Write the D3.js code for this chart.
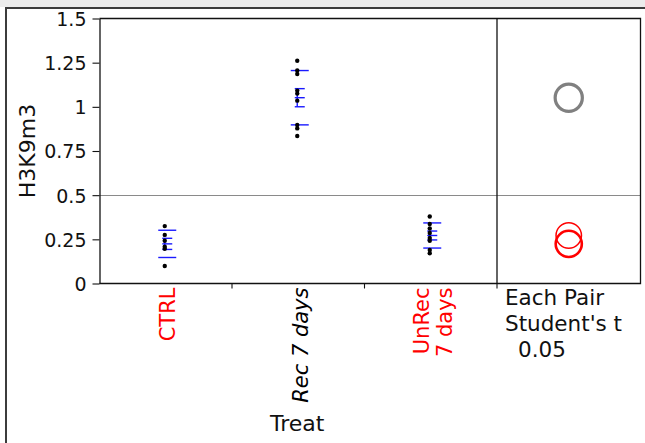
<!DOCTYPE html>
<html>
<head>
<meta charset="utf-8">
<script src="https://cdn.jsdelivr.net/npm/d3@7/dist/d3.min.js"></script>
<style>
  body { margin: 0; background: #fff; }
  svg { display: block; }
  text { font-family: "DejaVu Sans", "Liberation Sans", sans-serif; }
</style>
</head>
<body>
<svg id="chart" width="645" height="443"></svg>
<script>
// ---- data ----
const groups = ["CTRL", "Rec 7 days", "UnRec 7 days"];
const groupLabelLines = [["CTRL"], ["Rec 7 days"], ["UnRec", "7 days"]];
const ctrlValues = [0.325, 0.275, 0.242, 0.208, 0.197, 0.099];
const rec7Values = [1.261, 1.206, 1.186, 1.092, 1.075, 1.035, 0.897, 0.878, 0.835];
const unrec7Values = [0.379, 0.337, 0.311, 0.286, 0.258, 0.242, 0.190, 0.171];
const comparisonRadii = [0.074, 0.077, 0.072];   // comparison circle radii, in H3K9m3 units
const yTicks = [0, 0.25, 0.5, 0.75, 1, 1.25, 1.5];
const referenceLevel = 0.5;
const testLabelLines = ["Each Pair", "Student's t", "0.05"];
const yTitle = "H3K9m3";
const xTitle = "Treat";

const groupValues = [ctrlValues, rec7Values, unrec7Values];

// ---- styling / layout ----
const labelColor = { "CTRL": "#ff0000", "Rec 7 days": "#000000", "UnRec 7 days": "#ff0000" };
const labelItalic = { "Rec 7 days": true };
const circleStyle = {
  "CTRL": { stroke: "#ff0000", width: 2.6 },
  "Rec 7 days": { stroke: "#808080", width: 3.2 },
  "UnRec 7 days": { stroke: "#ff0000", width: 1.5 }
};
const plotLeft = 99.5, plotRight = 497, panelRight = 640.5, plotTop = 18.5, plotBottom = 283.5;

const svg = d3.select("#chart");

// window chrome: grey strip and outer frame
svg.append("rect").attr("x", 0).attr("y", 0).attr("width", 645).attr("height", 7).attr("fill", "#ececec");
svg.append("path").attr("d", "M6,443 V8 H645").attr("fill", "none").attr("stroke", "#3c3c3c").attr("stroke-width", 2);

const y = d3.scaleLinear().domain([0, 1.5]).range([plotBottom, plotTop]);
const x = d3.scaleBand().domain(groups).range([plotLeft, plotRight]).padding(0);

// summary statistics per group
const stats = groups.map((g, i) => {
  const v = groupValues[i];
  const mean = d3.mean(v), sd = d3.deviation(v);
  return { group: g, values: v, mean, sd, se: sd / Math.sqrt(v.length), radius: comparisonRadii[i] };
});

// grand-mean reference line across both panels
svg.append("line")
  .attr("x1", plotLeft).attr("x2", panelRight)
  .attr("y1", Math.round(y(referenceLevel)) + 0.5).attr("y2", Math.round(y(referenceLevel)) + 0.5)
  .attr("stroke", "#8a8a8a").attr("stroke-width", 1);

// y axis
const yAxis = svg.append("g")
  .attr("transform", `translate(${plotLeft},0)`)
  .call(d3.axisLeft(y).tickValues(yTicks).tickFormat(d => String(d)).tickSizeInner(7).tickSizeOuter(0).tickPadding(6));
yAxis.select(".domain").attr("stroke", "#111").attr("stroke-width", 1.3);
yAxis.selectAll(".tick line").attr("stroke", "#111").attr("stroke-width", 1.1);
yAxis.selectAll(".tick text").attr("font-size", 19).attr("fill", "#111").attr("dy", "0.36em")
  .style("font-family", "'DejaVu Sans', sans-serif");

// plot frames
svg.append("path")
  .attr("d", `M${plotLeft},${plotTop} H${panelRight} V${plotBottom} H${plotLeft}`)
  .attr("fill", "none").attr("stroke", "#111").attr("stroke-width", 1.3);
svg.append("line")
  .attr("x1", plotRight).attr("x2", plotRight).attr("y1", plotTop).attr("y2", plotBottom)
  .attr("stroke", "#111").attr("stroke-width", 1.3);

// x ticks at band boundaries
const boundaries = groups.slice(1).map(g => x(g)).concat([plotRight]);
svg.selectAll(".xtick").data(boundaries).join("line")
  .attr("class", "xtick")
  .attr("x1", d => d).attr("x2", d => d)
  .attr("y1", plotBottom).attr("y2", plotBottom + 5)
  .attr("stroke", "#111").attr("stroke-width", 1.1);

// mean / SE / SD markers
const statG = svg.append("g").attr("stroke", "#1a1aff").attr("stroke-width", 1.4);
stats.forEach(s => {
  const cx = x(s.group) + x.bandwidth() / 2 + 1.5;
  const px = x(s.group) + x.bandwidth() / 2 - 1;
  // standard deviation lines
  [s.mean - s.sd, s.mean + s.sd].forEach(v => {
    statG.append("line").attr("x1", cx - 9).attr("x2", cx + 9).attr("y1", y(v)).attr("y2", y(v));
  });
  // mean with standard error bars
  [s.mean - s.se, s.mean, s.mean + s.se].forEach(v => {
    statG.append("line").attr("x1", cx - 5).attr("x2", cx + 5).attr("y1", y(v)).attr("y2", y(v));
  });
  statG.append("line").attr("x1", px).attr("x2", px)
    .attr("y1", y(s.mean - s.se)).attr("y2", y(s.mean + s.se));
});

// individual observations
stats.forEach(s => {
  const px = x(s.group) + x.bandwidth() / 2 - 1;
  svg.append("g").selectAll("circle").data(s.values).join("circle")
    .attr("cx", px).attr("cy", d => y(d)).attr("r", 2.2).attr("fill", "#000");
});

// comparison circles
const ccx = (plotRight + panelRight) / 2;
svg.append("g").selectAll("circle").data(stats).join("circle")
  .attr("cx", ccx)
  .attr("cy", d => y(d.mean))
  .attr("r", d => y(0) - y(d.radius))
  .attr("fill", "none")
  .attr("stroke", d => circleStyle[d.group].stroke)
  .attr("stroke-width", d => circleStyle[d.group].width);

// rotated category labels
const lineGap = 23;
groups.forEach((g, i) => {
  const lines = groupLabelLines[i];
  const center = x(g) + x.bandwidth() / 2 + 2;
  lines.forEach((ln, j) => {
    const lx = center + (j - (lines.length - 1) / 2) * lineGap;
    svg.append("text")
      .attr("transform", `translate(${lx},${plotBottom + 4}) rotate(-90)`)
      .attr("text-anchor", "end")
      .attr("dy", "0.36em")
      .attr("font-size", 21)
      .attr("font-style", labelItalic[g] ? "italic" : "normal")
      .attr("fill", labelColor[g])
      .text(ln);
  });
});

// axis titles
svg.append("text")
  .attr("transform", `translate(35,${(plotTop + plotBottom) / 2}) rotate(-90)`)
  .attr("text-anchor", "middle")
  .attr("font-size", 22).attr("fill", "#111")
  .text(yTitle);
svg.append("text")
  .attr("x", (plotLeft + plotRight) / 2 - 1).attr("y", 431)
  .attr("text-anchor", "middle")
  .attr("font-size", 22).attr("fill", "#111")
  .text(xTitle);

// comparison test caption
svg.append("g").selectAll("text").data(testLabelLines).join("text")
  .attr("x", (d, i) => i === 2 ? 518 : 505)
  .attr("y", (d, i) => 305 + i * 26)
  .attr("font-size", 21.5).attr("fill", "#111")
  .text(d => d);
</script>
</body>
</html>
